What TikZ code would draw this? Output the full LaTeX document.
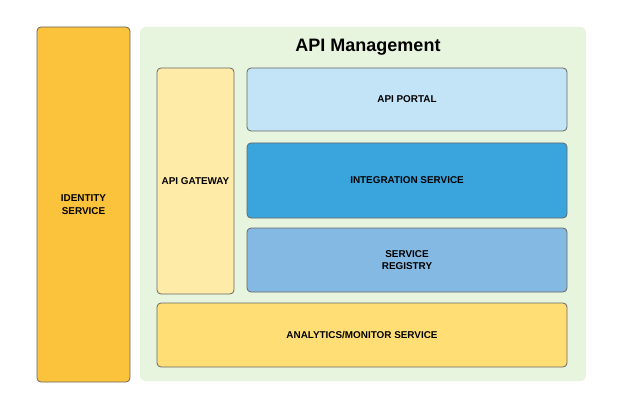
\documentclass[tikz,border=0pt]{standalone}
\usepackage{fontspec}
\setmainfont{Liberation Sans}
\definecolor{idfill}{HTML}{FBC23B}
\definecolor{mgmtfill}{HTML}{E8F5DE}
\definecolor{gwfill}{HTML}{FFEBA8}
\definecolor{portalfill}{HTML}{C3E4F7}
\definecolor{intfill}{HTML}{3AA5DD}
\definecolor{regfill}{HTML}{84B9E3}
\definecolor{anfill}{HTML}{FFDF75}
\tikzset{
  box/.style={draw=black!60, line width=0.8pt, rounded corners=4pt, align=center,
    font=\bfseries\fontsize{9.9}{12.5}\selectfont, inner sep=0pt},
}
\begin{document}
\begin{tikzpicture}[x=1pt,y=-1pt]
\useasboundingbox (0,0) rectangle (624,409);

\node[fill=mgmtfill, rounded corners=5pt, minimum width=446pt, minimum height=354pt] (mgmt) at (363,204) {};
\node[font=\bfseries\fontsize{18}{21}\selectfont] (title) at (368,47) {API Management};

\node[box, fill=idfill, minimum width=93pt, minimum height=355pt] (ident) at (83.5,204.5) {IDENTITY\\SERVICE};
\node[box, fill=gwfill, minimum width=77pt, minimum height=226pt] (gw) at (195.5,181) {API GATEWAY};
\node[box, fill=portalfill, minimum width=320pt, minimum height=63pt] (portal) at (407,99.5) {API PORTAL};
\node[box, fill=intfill, minimum width=320pt, minimum height=75pt] (integ) at (407,180.5) {INTEGRATION SERVICE};
\node[box, fill=regfill, minimum width=320pt, minimum height=64pt] (reg) at (407,260) {SERVICE\\REGISTRY};
\node[box, fill=anfill, minimum width=410pt, minimum height=64pt] (analytics) at (362,335) {ANALYTICS/MONITOR SERVICE};

\end{tikzpicture}
\end{document}
